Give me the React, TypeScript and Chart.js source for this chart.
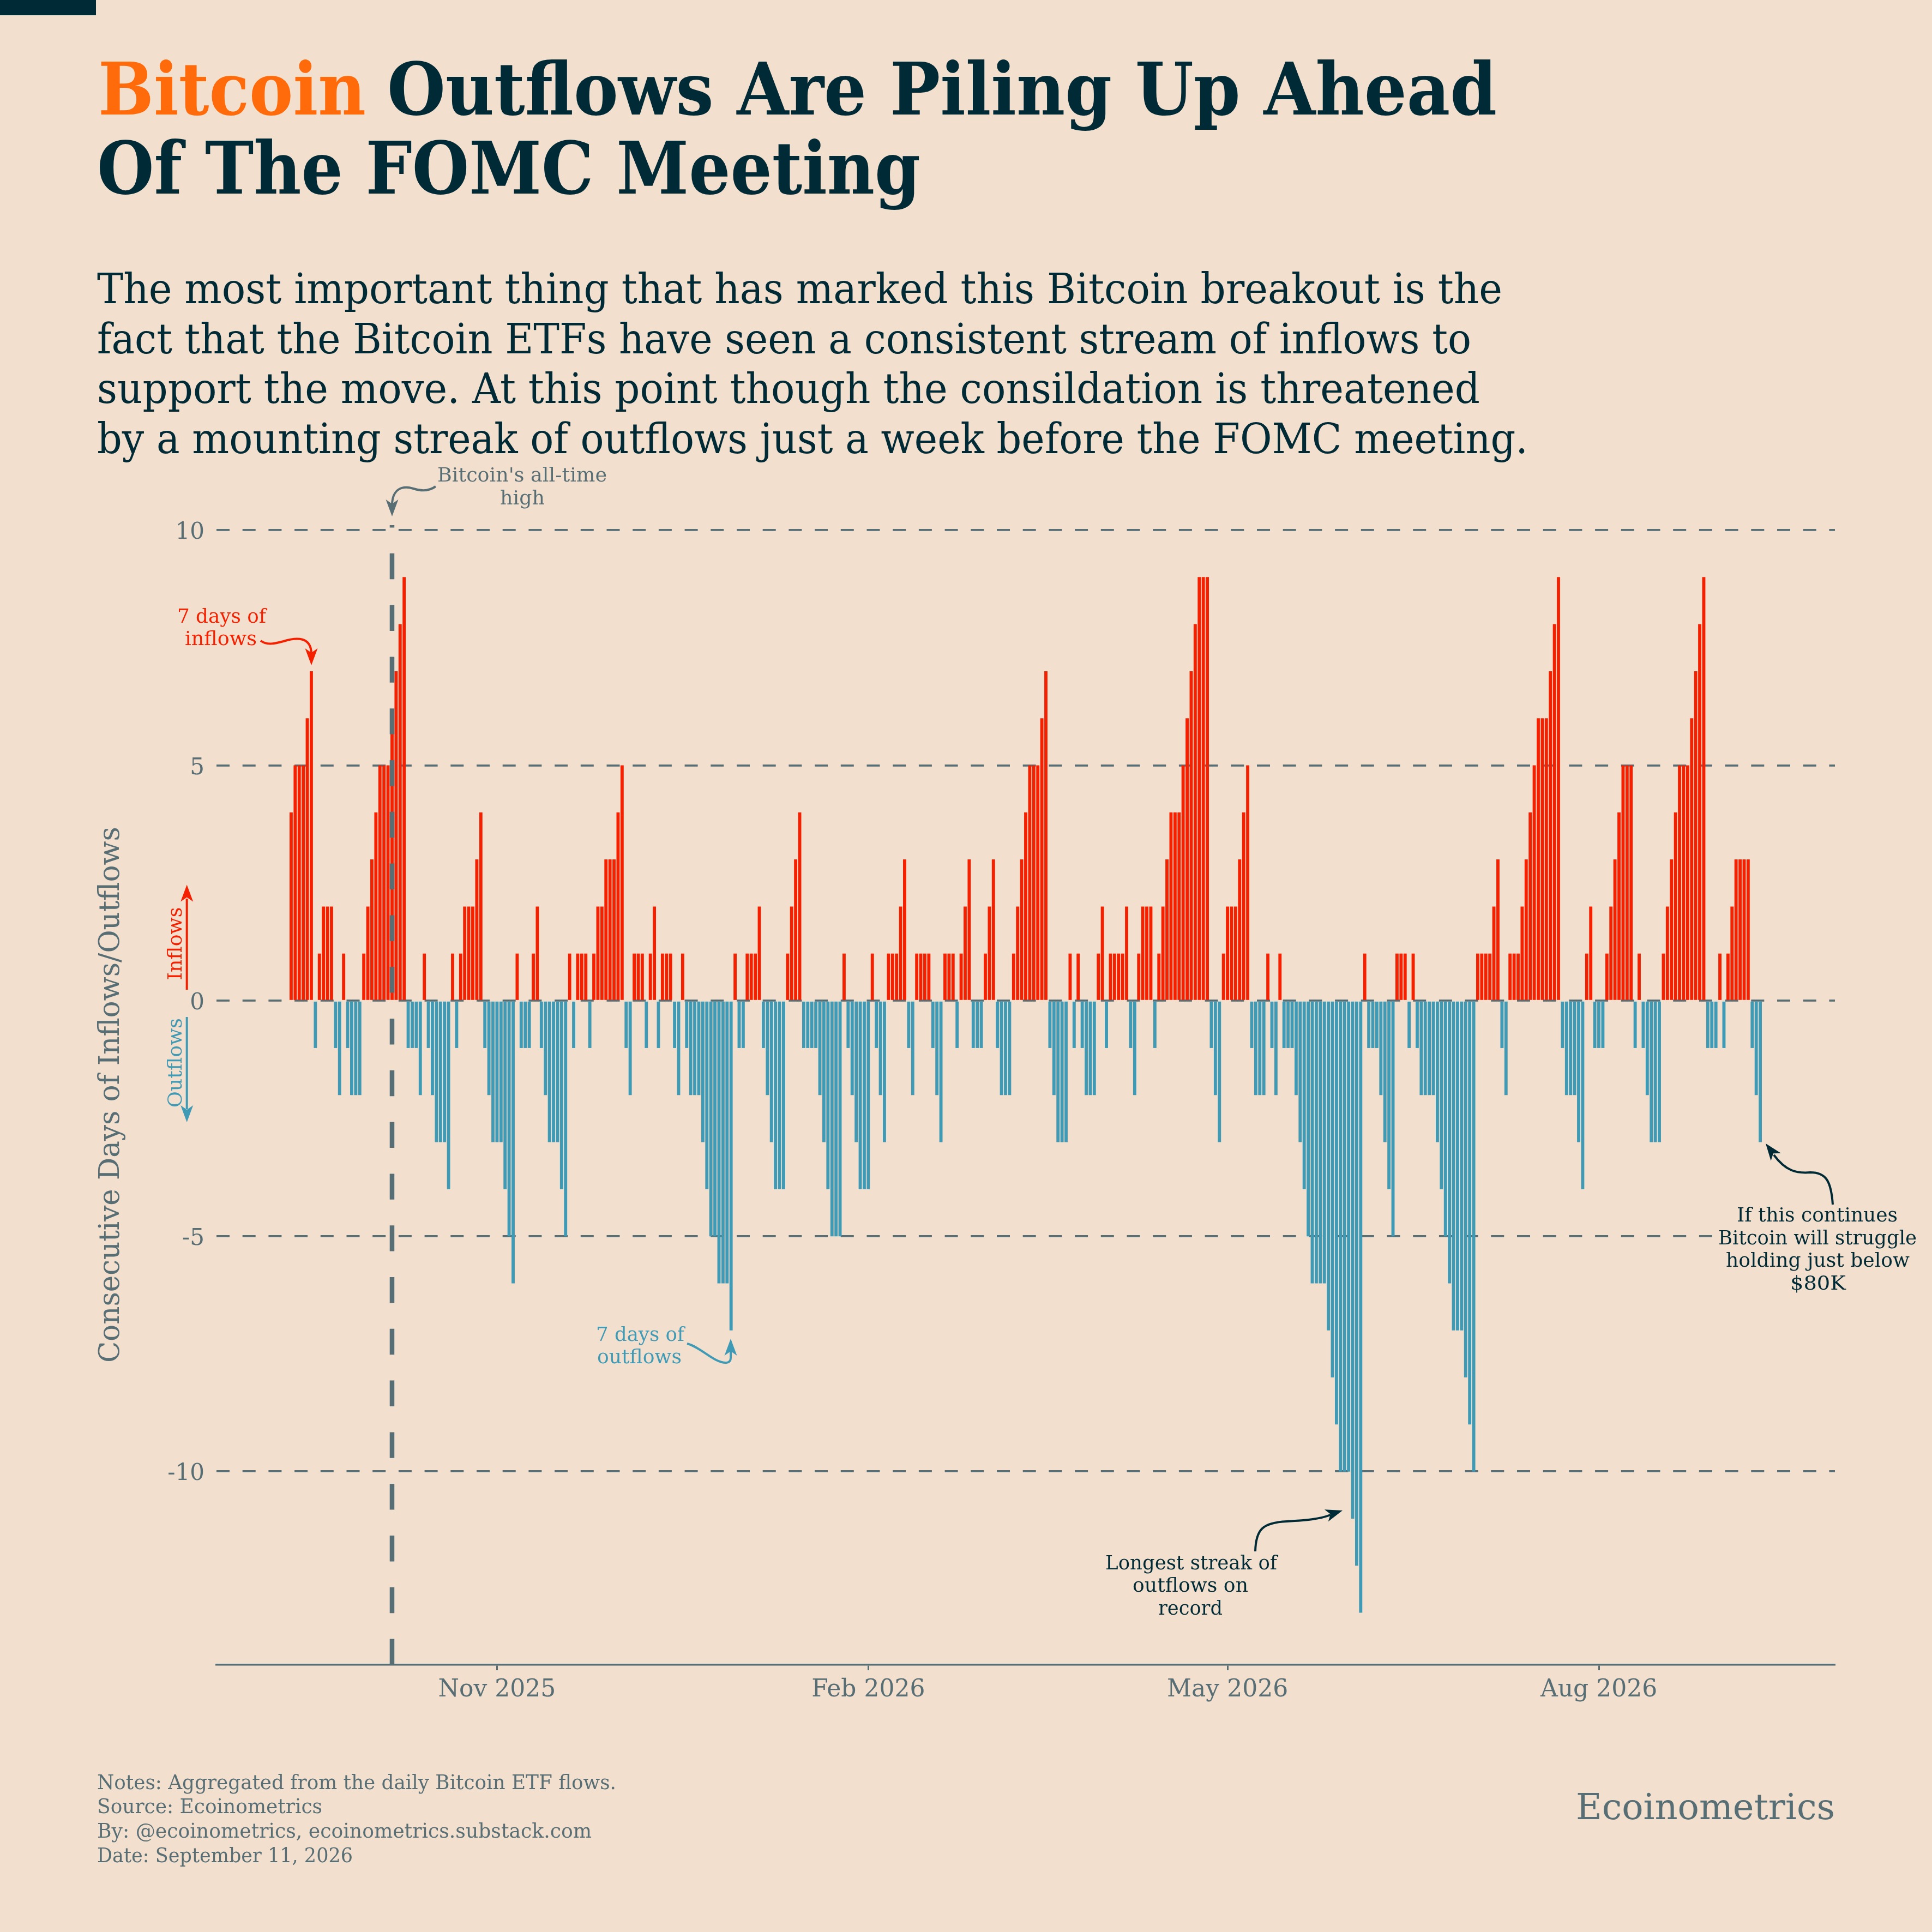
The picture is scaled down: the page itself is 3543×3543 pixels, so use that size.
import React, { useEffect, useRef } from "react";
import { Chart, registerables } from "chart.js";

Chart.register(...registerables);

// Consecutive days of inflows (+) / outflows (-), one value per calendar day from Sep 11, 2025
const streakAutumn = [4,5,5,5,6,7,-1,1,2,2,2,-1,-2,1,-1,-2,-2,-2,1,2,3,4,5,5,5,6,7,8,9,-1,-1,-1,-2,1,-1,-2,-3,-3,-3,-4,1,-1,1,2,2,2,3,4,-1,-2,-3,-3,-3,-4,-5,-6,1,-1,-1,-1,1,2,-1,-2,-3,-3,-3,-4,-5];
const streakWinter = [1,-1,1,1,1,-1,1,2,2,3,3,3,4,5,-1,-2,1,1,1,-1,1,2,-1,1,1,1,-1,-2,1,-1,-2,-2,-2,-3,-4,-5,-5,-6,-6,-6,-7,1,-1,-1,1,1,1,2,-1,-2,-3,-4,-4,-4,1,2,3,4,-1,-1,-1,-1,-2,-3,-4,-5,-5,-5,1,-1,-2,-3,-4,-4,-4];
const streakSpring = [1,-1,-2,-3,1,1,1,2,3,-1,-2,1,1,1,1,-1,-2,-3,1,1,1,-1,1,2,3,-1,-1,-1,1,2,3,-1,-2,-2,-2,1,2,3,4,5,5,5,6,7,-1,-2,-3,-3,-3,1,-1,1,-1,-2,-2,-2,1,2,-1,1,1,1,1,2,-1,-2,1,2,2,2,-1,1,2];
const streakEarlySummer = [3,4,4,4,5,6,7,8,9,9,9,-1,-2,-3,1,2,2,2,3,4,5,-1,-2,-2,-2,1,-1,-2,1,-1,-1,-1,-2,-3,-4,-5,-6,-6,-6,-6,-7,-8,-9,-10,-10,-10,-11,-12,-13,1,-1,-1,-1,-2,-3,-4,-5,1,1,1,-1,1,-1,-2,-2,-2,-2,-3,-4,-5,-6,-7,-7];
const streakLateSummer = [-7,-8,-9,-10,1,1,1,1,2,3,-1,-2,1,1,1,2,3,4,5,6,6,6,7,8,9,-1,-2,-2,-2,-3,-4,1,2,-1,-1,-1,1,2,3,4,5,5,5,-1,1,-1,-2,-3,-3,-3,1,2,3,4,5,5,5,6,7,8,9,-1,-1,-1,1,-1,1,2,3,3,3,3,-1,-2,-3];
const streak = [...streakAutumn, ...streakWinter, ...streakSpring, ...streakEarlySummer, ...streakLateSummer];

const xTickDays = [51, 143, 232, 324];
const xTickLabels = ["Nov 2025", "Feb 2026", "May 2026", "Aug 2026"];
const yTicks = [-10, -5, 0, 5, 10];
const allTimeHighDay = 25;

const BG = "#F2DFCE";
const GRAY = "#586E75";
const DARK = "#002B36";
const RED = "#F52000";
const BLUE = "#3F9AB5";
const ORANGE = "#FF6B0A";
const SERIF = '"DejaVu Serif"';

type Ctx = CanvasRenderingContext2D;

function fit(ctx: Ctx, text: string, x: number, y: number, width: number, font: string, color: string, rotate = false) {
  ctx.save();
  ctx.font = font;
  ctx.fillStyle = color;
  ctx.textAlign = "left";
  ctx.textBaseline = "alphabetic";
  const w = ctx.measureText(text).width;
  ctx.translate(x, y);
  if (rotate) ctx.rotate(-Math.PI / 2);
  ctx.scale(width / w, 1);
  ctx.fillText(text, 0, 0);
  ctx.restore();
}

function head(ctx: Ctx, tx: number, ty: number, angle: number, color: string, L = 31, hw = 11.5, notch = 8) {
  ctx.save();
  ctx.translate(tx, ty);
  ctx.rotate(angle);
  ctx.fillStyle = color;
  ctx.beginPath();
  ctx.moveTo(0, 0);
  ctx.lineTo(-L, hw);
  ctx.lineTo(-L + notch, 0);
  ctx.lineTo(-L, -hw);
  ctx.closePath();
  ctx.fill();
  ctx.restore();
}

function curve(ctx: Ctx, pts: number[][], color: string, width = 4) {
  ctx.save();
  ctx.strokeStyle = color;
  ctx.lineWidth = width;
  ctx.lineCap = "butt";
  ctx.beginPath();
  ctx.moveTo(pts[0][0], pts[0][1]);
  for (let i = 1; i < pts.length; i++) {
    const p = pts[i];
    if (p.length === 6) ctx.bezierCurveTo(p[0], p[1], p[2], p[3], p[4], p[5]);
    else ctx.lineTo(p[0], p[1]);
  }
  ctx.stroke();
  ctx.restore();
}

const pagePlugin = {
  id: "page",
  beforeDraw(chart: any) {
    const ctx: Ctx = chart.ctx;
    ctx.save();
    ctx.fillStyle = BG;
    ctx.fillRect(0, 0, chart.width, chart.height);
    ctx.fillStyle = DARK;
    ctx.fillRect(0, 0, 176, 28);
    ctx.restore();

    const bold = `bold 133px ${SERIF}`;
    fit(ctx, "Bitcoin", 180, 210, 491, bold, ORANGE);
    fit(ctx, "Outflows Are Piling Up Ahead", 710, 210, 2035, bold, DARK);
    fit(ctx, "Of The FOMC Meeting", 178, 355, 1510, bold, DARK);

    const sub = `76px ${SERIF}`;
    fit(ctx, "The most important thing that has marked this Bitcoin breakout is the", 178, 556, 2577, sub, DARK);
    fit(ctx, "fact that the Bitcoin ETFs have seen a consistent stream of inflows to", 178, 648, 2520, sub, DARK);
    fit(ctx, "support the move. At this point though the consildation is threatened", 178, 739, 2536, sub, DARK);
    fit(ctx, "by a mounting streak of outflows just a week before the FOMC meeting.", 178, 831, 2624, sub, DARK);

    const foot = `38px ${SERIF}`;
    fit(ctx, "Notes: Aggregated from the daily Bitcoin ETF flows.", 178, 3281, 952, foot, GRAY);
    fit(ctx, "Source: Ecoinometrics", 178, 3325, 413, foot, GRAY);
    fit(ctx, "By: @ecoinometrics, ecoinometrics.substack.com", 178, 3370, 907, foot, GRAY);
    fit(ctx, "Date: September 11, 2026", 178, 3415, 469, foot, GRAY);
    fit(ctx, "Ecoinometrics", 2890, 3336, 475, `66px ${SERIF}`, GRAY);

    fit(ctx, "Consecutive Days of Inflows/Outflows", 218, 2499, 983, `52px ${SERIF}`, GRAY, true);

    // Georgia's old-style figures sit lower than DejaVu's lining figures
    chart.scales.y.getLabelItems().forEach((item: any) => {
      if (!item.__shifted) {
        item.options.translation = [item.options.translation[0], item.options.translation[1] + 5];
        item.__shifted = true;
      }
    });
  },
  afterDatasetsDraw(chart: any) {
    const ctx: Ctx = chart.ctx;
    const { top, bottom } = chart.chartArea;
    const xAth = chart.scales.x.getPixelForValue(allTimeHighDay);

    ctx.save();
    ctx.strokeStyle = GRAY;
    ctx.lineWidth = 8.5;
    ctx.setLineDash([47.4, 47.4]);
    ctx.beginPath();
    ctx.moveTo(xAth, bottom);
    ctx.lineTo(xAth, top);
    ctx.stroke();
    ctx.restore();

    const note = `35px ${SERIF}`;
    // All-time high
    fit(ctx, "Bitcoin's all-time", 802, 883, 311, note, GRAY);
    fit(ctx, "high", 917, 925, 82, note, GRAY);
    curve(ctx, [[799, 892], [785, 902, 770, 900, 758, 896], [738, 890, 720, 896, 719, 925]], GRAY);
    head(ctx, 719, 947, Math.PI / 2, GRAY);

    // 7 days of inflows
    fit(ctx, "7 days of", 325, 1142, 163, note, RED);
    fit(ctx, "inflows", 339, 1183, 132, note, RED);
    curve(ctx, [[478, 1175], [490, 1184, 505, 1180, 520, 1176], [545, 1168, 570, 1168, 571, 1198]], RED);
    head(ctx, 571, 1220, Math.PI / 2, RED);

    // Axis direction keys
    fit(ctx, "Inflows", 333, 1797.5, 134, note, RED, true);
    curve(ctx, [[342.7, 1815], [342.7, 1648]], RED);
    head(ctx, 342.7, 1622.5, -Math.PI / 2, RED);
    fit(ctx, "Outflows", 333, 2031, 164, note, BLUE, true);
    curve(ctx, [[342.7, 1865], [342.7, 2034]], BLUE);
    head(ctx, 342.7, 2058, Math.PI / 2, BLUE);

    // 7 days of outflows
    fit(ctx, "7 days of", 1093, 2459, 162, note, BLUE);
    fit(ctx, "outflows", 1095, 2500, 155, note, BLUE);
    curve(ctx, [[1260, 2464], [1285, 2470, 1310, 2500, 1332, 2499], [1342, 2498, 1340, 2490, 1340, 2478]], BLUE);
    head(ctx, 1340, 2455, -Math.PI / 2, BLUE);

    // Longest streak
    fit(ctx, "Longest streak of", 2027, 2878, 315, note, DARK);
    fit(ctx, "outflows on", 2077, 2919, 212, note, DARK);
    fit(ctx, "record", 2124, 2961, 118, note, DARK);
    curve(ctx, [[2302, 2845], [2303, 2805, 2315, 2792, 2360, 2790], [2395, 2788, 2420, 2786, 2440, 2778]], DARK);
    head(ctx, 2462, 2770, -0.3, DARK);

    // Final note, on a background box that interrupts the gridline
    ctx.save();
    ctx.fillStyle = BG;
    ctx.fillRect(3146, 2205, 380, 175);
    ctx.restore();
    fit(ctx, "If this continues", 3185, 2240, 295, note, DARK);
    fit(ctx, "Bitcoin will struggle", 3151, 2282, 364, note, DARK);
    fit(ctx, "holding just below", 3165, 2323, 337, note, DARK);
    fit(ctx, "$80K", 3283, 2365, 102, note, DARK);
    curve(ctx, [[3361, 2209], [3358, 2165, 3348, 2150, 3320, 2150], [3295, 2152, 3275, 2148, 3253, 2118]], DARK);
    head(ctx, 3238, 2097, -2.22, DARK);
  },
};

export default function App() {
  const ref = useRef<HTMLCanvasElement>(null);
  useEffect(() => {
    document.body.style.margin = "0";
    document.body.style.background = BG;
    const chart = new Chart(ref.current!, {
      type: "bar",
      data: {
        datasets: [
          {
            label: "Consecutive days",
            data: streak.map((v, i) => ({ x: i, y: v })) as any,
            backgroundColor: streak.map((v) => (v > 0 ? RED : BLUE)),
            borderWidth: 0,
            barThickness: 5.2,
          },
        ],
      },
      options: {
        animation: false,
        responsive: false,
        devicePixelRatio: 1,
        layout: { padding: { left: 0, top: 963, right: 178, bottom: 0 } },
        plugins: { legend: { display: false }, tooltip: { enabled: false }, title: { display: false } },
        scales: {
          x: {
            type: "linear",
            offset: false,
            min: -18.5,
            max: 382.5,
            afterBuildTicks: (s: any) => {
              s.ticks = xTickDays.map((value) => ({ value }));
            },
            afterFit: (s: any) => {
              s.height = 490;
            },
            border: { display: true, color: GRAY, width: 3.5 },
            grid: { display: true, offset: false, drawOnChartArea: false, drawTicks: true, tickLength: 10, tickWidth: 3, tickColor: GRAY },
            ticks: {
              autoSkip: false,
              maxRotation: 0,
              minRotation: 0,
              padding: 10,
              color: GRAY,
              font: { family: SERIF, size: 44 },
              callback: (v: any) => xTickLabels[xTickDays.indexOf(Number(v))] ?? "",
            },
          },
          y: {
            type: "linear",
            min: -14.11,
            max: 10.108,
            afterBuildTicks: (s: any) => {
              s.ticks = yTicks.map((value) => ({ value }));
            },
            afterFit: (s: any) => {
              s.width = 397;
            },
            border: { display: false, dash: [24, 23.7] },
            grid: { display: true, color: GRAY, lineWidth: 3.7, drawTicks: false, tickLength: 0 },
            ticks: {
              padding: 22,
              color: GRAY,
              font: { family: SERIF, size: 42 },
              callback: (v: any) => String(v),
            },
          },
        },
      } as any,
      plugins: [pagePlugin],
    });
    return () => chart.destroy();
  }, []);
  return <canvas ref={ref} width={3543} height={3543} style={{ display: "block", width: 3543, height: 3543 }} />;
}
